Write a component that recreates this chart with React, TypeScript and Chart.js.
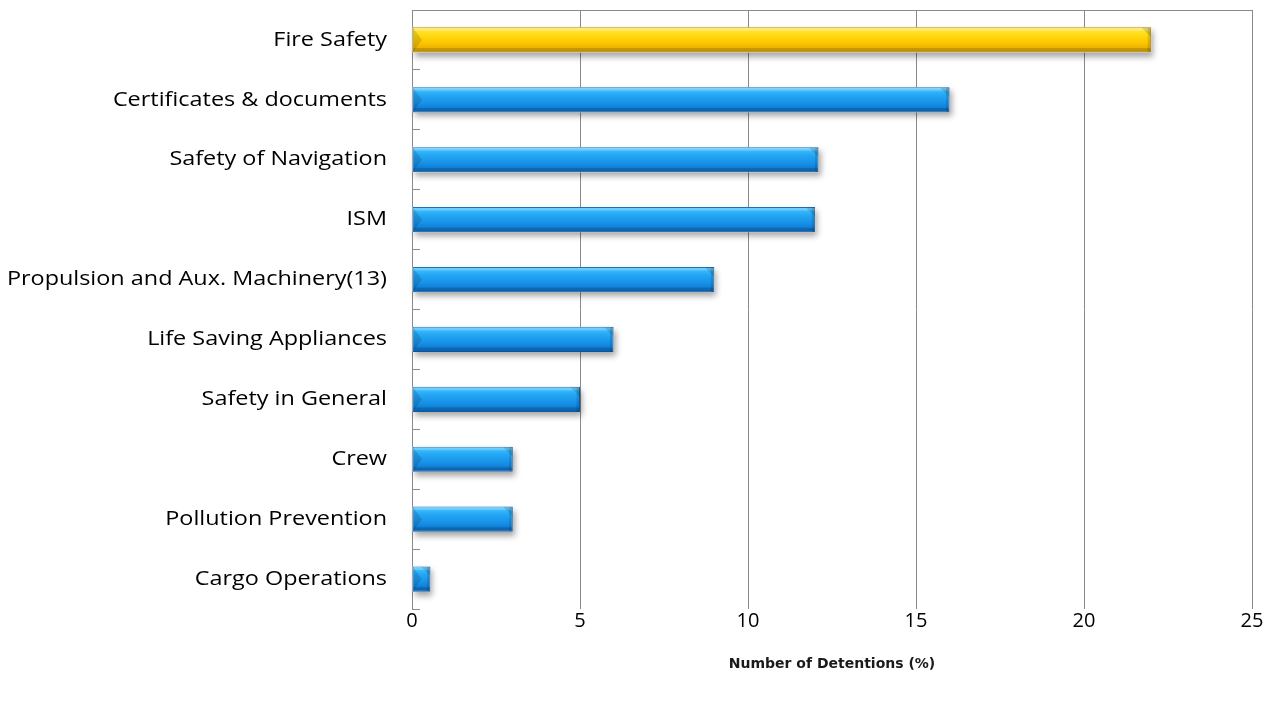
import React, { useEffect, useRef } from "react";
import { Chart, registerables } from "chart.js";

Chart.register(...registerables);

const categories = [
  "Fire Safety",
  "Certificates & documents",
  "Safety of Navigation",
  "ISM",
  "Propulsion and Aux. Machinery(13)",
  "Life Saving Appliances",
  "Safety in General",
  "Crew",
  "Pollution Prevention",
  "Cargo Operations",
];
const detentions = [22, 16, 12.1, 12, 9, 6, 5, 3, 3, 0.55];
const highlighted = ["Fire Safety"];
const xTicks = [0, 5, 10, 15, 20, 25];
const xTitle = "Number of Detentions (%)";

const BAR_RATIO = 0.42;
const Y_TICK_LEN = -8;
const Y_TICK_PAD = 33;
const LABEL_STRETCH = 1.17;

function barGradient(ctx: any) {
  const chart = ctx.chart;
  const yScale = chart.scales?.y;
  const gold = highlighted.includes(categories[ctx.dataIndex]);
  if (!yScale || !yScale.height) return gold ? "#FFC800" : "#1E96EC";
  const c = yScale.getPixelForValue(ctx.dataIndex);
  const half = ((yScale.height / categories.length) * BAR_RATIO) / 2;
  const g = chart.ctx.createLinearGradient(0, c - half, 0, c + half);
  if (gold) {
    g.addColorStop(0, "#FFE94A");
    g.addColorStop(0.3, "#FFDB12");
    g.addColorStop(0.65, "#FBC300");
    g.addColorStop(1, "#D9A000");
  } else {
    g.addColorStop(0, "#4CC8FF");
    g.addColorStop(0.3, "#25A8F5");
    g.addColorStop(0.65, "#1690E6");
    g.addColorStop(1, "#0B6CC4");
  }
  return g;
}

const bevelPlugin = {
  id: "bevel",
  beforeDatasetsDraw(chart: any) {
    const ctx = chart.ctx;
    const meta = chart.getDatasetMeta(0);
    ctx.save();
    ctx.shadowColor = "rgba(0,0,0,0.35)";
    ctx.shadowBlur = 6;
    ctx.shadowOffsetX = 2;
    ctx.shadowOffsetY = 4;
    ctx.fillStyle = "#ffffff";
    meta.data.forEach((el: any) => {
      const t = el.y - el.height / 2;
      ctx.fillRect(el.base, t, el.x - el.base, el.height);
    });
    ctx.restore();
  },
  afterDatasetsDraw(chart: any) {
    const ctx = chart.ctx;
    const meta = chart.getDatasetMeta(0);
    ctx.save();
    meta.data.forEach((el: any) => {
      const L = el.base + 0.5;
      const R = el.x - 0.5;
      const T = el.y - el.height / 2 + 0.5;
      const B = el.y + el.height / 2 - 0.5;
      const bw = Math.min(9, (R - L) / 2);
      ctx.fillStyle = "rgba(255,255,255,0.22)";
      ctx.fillRect(L, T, R - L, 3);
      ctx.fillStyle = "rgba(0,0,0,0.14)";
      ctx.fillRect(L, B - 4, R - L, 4);
      ctx.beginPath();
      ctx.moveTo(L, T);
      ctx.lineTo(L + bw, el.y);
      ctx.lineTo(L, B);
      ctx.closePath();
      ctx.fillStyle = "rgba(0,0,0,0.13)";
      ctx.fill();
      ctx.beginPath();
      ctx.moveTo(R - bw, T);
      ctx.lineTo(R, T);
      ctx.lineTo(R, T + bw);
      ctx.closePath();
      ctx.fillStyle = "rgba(0,0,0,0.13)";
      ctx.fill();
      ctx.fillStyle = "rgba(0,0,0,0.12)";
      ctx.fillRect(R - 3, T, 3, B - T);
    });
    ctx.restore();
  },
  afterDraw(chart: any) {
    const { ctx, chartArea } = chart;
    ctx.save();
    ctx.strokeStyle = "#8a8a8a";
    ctx.lineWidth = 1;
    ctx.beginPath();
    ctx.moveTo(chartArea.left, chartArea.top + 0.5);
    ctx.lineTo(chartArea.right, chartArea.top + 0.5);
    ctx.stroke();
    ctx.restore();
  },
};

export default function App() {
  const ref = useRef<HTMLCanvasElement | null>(null);
  useEffect(() => {
    if (!ref.current) return;
    const chart = new Chart(ref.current, {
      type: "bar",
      data: {
        labels: categories,
        datasets: [
          {
            data: detentions,
            backgroundColor: (c: any) => barGradient(c),
            borderColor: (c: any) =>
              highlighted.includes(categories[c.dataIndex]) ? "#B88A00" : "#0A5FAE",
            borderWidth: 1,
            borderSkipped: false,
            barPercentage: BAR_RATIO,
            categoryPercentage: 1,
          },
        ],
      },
      options: {
        indexAxis: "y",
        animation: false,
        responsive: true,
        maintainAspectRatio: false,
        layout: { padding: { top: 2, right: 18, left: 0, bottom: 0 } },
        plugins: {
          legend: { display: false },
          tooltip: { enabled: false },
        },
        scales: {
          x: {
            min: 0,
            max: 25,
            afterFit: (s: any) => {
              s.height = 88;
            },
            afterBuildTicks: (s: any) => {
              s.ticks = xTicks.map((v) => ({ value: v }));
            },
            grid: { color: "#8a8a8a", lineWidth: 1, drawTicks: false },
            border: { display: false },
            ticks: {
              padding: 0,
              color: "#000",
              font: { family: "'Open Sans'", size: 20 },
            },
            title: {
              display: true,
              text: xTitle,
              color: "#1a1a1a",
              padding: { bottom: 24, top: 0 },
              font: { family: "'DejaVu Sans'", size: 14, weight: "bold" },
            },
          },
          y: {
            afterFit: (s: any) => {
              s.width = 404;
              s.paddingTop = 0;
              s.paddingBottom = 0;
              if (!s.__stretched) {
                const orig = s.drawLabels;
                s.drawLabels = function (area: any) {
                  const c = this.ctx;
                  const ax = this.right - (Y_TICK_LEN + Y_TICK_PAD);
                  c.save();
                  c.translate(ax, 0);
                  c.scale(LABEL_STRETCH, 1);
                  c.translate(-ax, 0);
                  orig.call(this, area);
                  c.restore();
                };
                s.__stretched = true;
              }
            },
            grid: {
              display: true,
              drawOnChartArea: false,
              drawTicks: true,
              tickLength: Y_TICK_LEN,
              offset: true,
              color: "#8a8a8a",
            },
            border: { display: true, color: "#8a8a8a", width: 1 },
            ticks: {
              padding: Y_TICK_PAD,
              color: "#000",
              font: { family: "'Open Sans'", size: 20 },
            },
          },
        },
      },
      plugins: [bevelPlugin],
    });
    return () => chart.destroy();
  }, []);
  return (
    <div style={{ width: 1262, height: 689, position: "relative" }}>
      <canvas ref={ref} />
    </div>
  );
}
